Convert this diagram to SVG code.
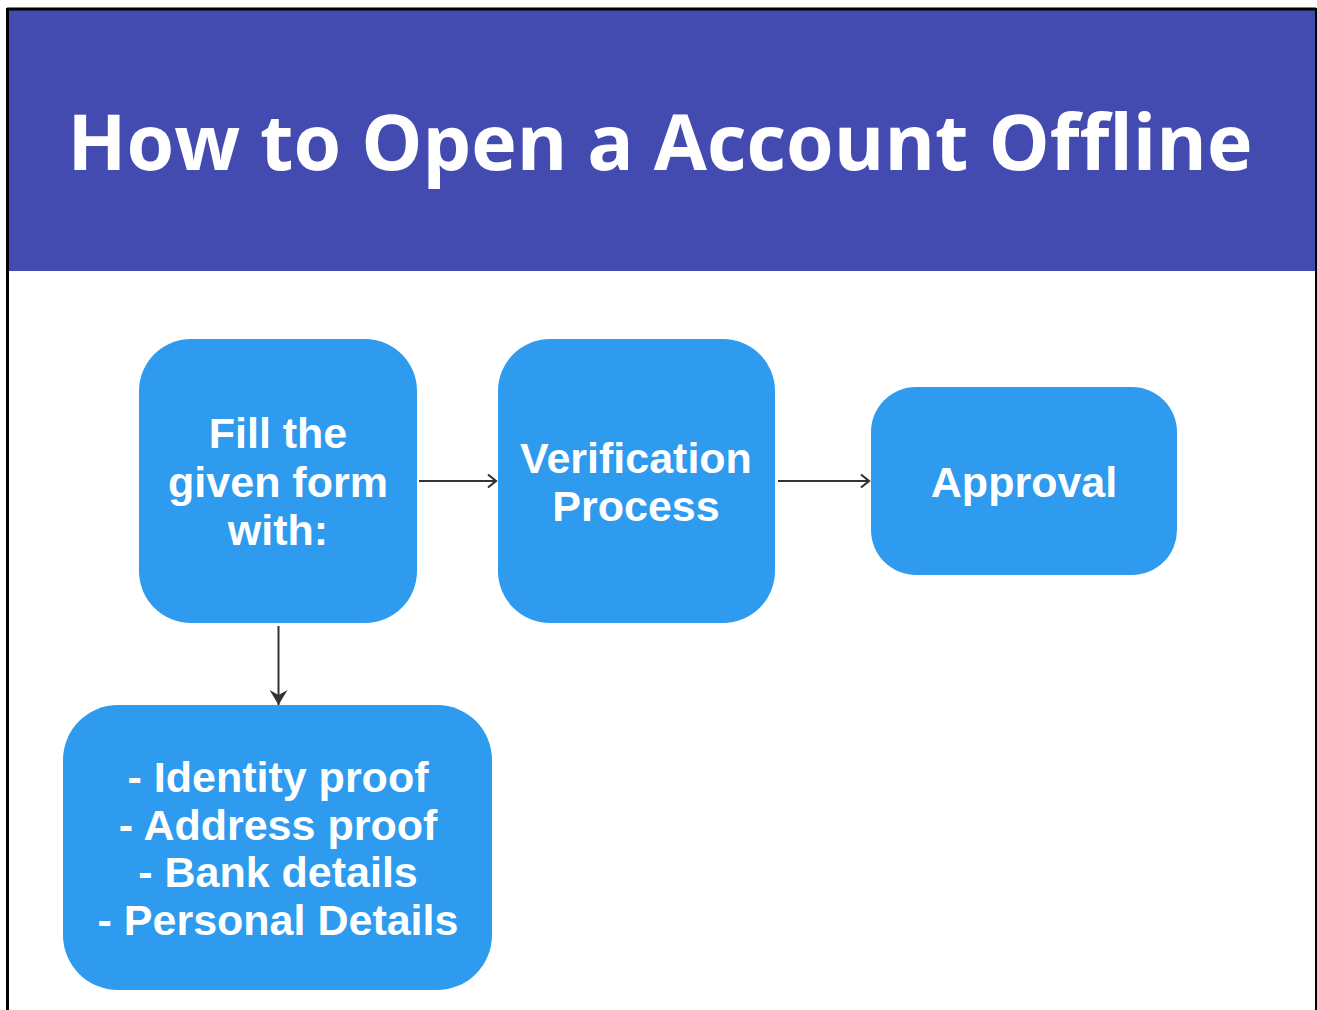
<svg xmlns="http://www.w3.org/2000/svg" width="1317" height="1010" viewBox="0 0 1317 1010">
<style>
.node{fill:#2E9BEF;}
.lbl{font-family:"Liberation Sans",Arial,sans-serif;font-weight:bold;font-size:43px;fill:#FFFFFF;text-anchor:middle;}
.title{font-family:"Open Sans","Noto Sans",sans-serif;font-weight:bold;font-size:77px;fill:#FFFFFF;text-anchor:middle;}
.conn{stroke:#333333;stroke-width:2;fill:none;}
</style>
<defs>
<marker id="open" markerWidth="12" markerHeight="16" refX="10" refY="8" orient="auto" markerUnits="userSpaceOnUse">
<path d="M2,1.5 L10,8 L2,14.5" fill="none" stroke="#333333" stroke-width="2.2"/>
</marker>
<marker id="solid" markerWidth="20" markerHeight="20" refX="9" refY="18" orient="0" markerUnits="userSpaceOnUse">
<path d="M0,3 L9,8 L18,3 L9,18 Z" fill="#333333"/>
</marker>
</defs>
<rect x="0" y="0" width="1317" height="1010" fill="#FFFFFF"/>
<g id="frame">
<rect x="9" y="10" width="1306" height="261" fill="#434BB0"/>
<line x1="7" y1="9" x2="1316" y2="9" stroke="#000" stroke-width="3"/>
<line x1="7.5" y1="8" x2="7.5" y2="1010" stroke="#000" stroke-width="3"/>
<line x1="1316" y1="8" x2="1316" y2="1010" stroke="#000" stroke-width="2"/>
<text class="title" x="660" y="170">How to Open a Account Offline</text>
</g>
<g id="connectors">
<line class="conn" x1="419" y1="481" x2="496" y2="481" marker-end="url(#open)"/>
<line class="conn" x1="778" y1="481" x2="869" y2="481" marker-end="url(#open)"/>
<line class="conn" x1="278.5" y1="626" x2="278.5" y2="705" marker-end="url(#solid)"/>
</g>
<g id="node-fill">
<rect class="node" x="139" y="339" width="278" height="284" rx="52"/>
<text class="lbl" x="278" y="448">Fill the</text>
<text class="lbl" x="278" y="497">given form</text>
<text class="lbl" x="278" y="545">with:</text>
</g>
<g id="node-verification">
<rect class="node" x="498" y="339" width="277" height="284" rx="52"/>
<text class="lbl" x="636" y="473">Verification</text>
<text class="lbl" x="636" y="521">Process</text>
</g>
<g id="node-approval">
<rect class="node" x="871" y="387" width="306" height="188" rx="45"/>
<text class="lbl" x="1024" y="497">Approval</text>
</g>
<g id="node-list">
<rect class="node" x="63" y="705" width="429" height="285" rx="55"/>
<text class="lbl" x="278" y="792">- Identity proof</text>
<text class="lbl" x="278" y="840">- Address proof</text>
<text class="lbl" x="278" y="887">- Bank details</text>
<text class="lbl" x="278" y="935">- Personal Details</text>
</g>
</svg>
